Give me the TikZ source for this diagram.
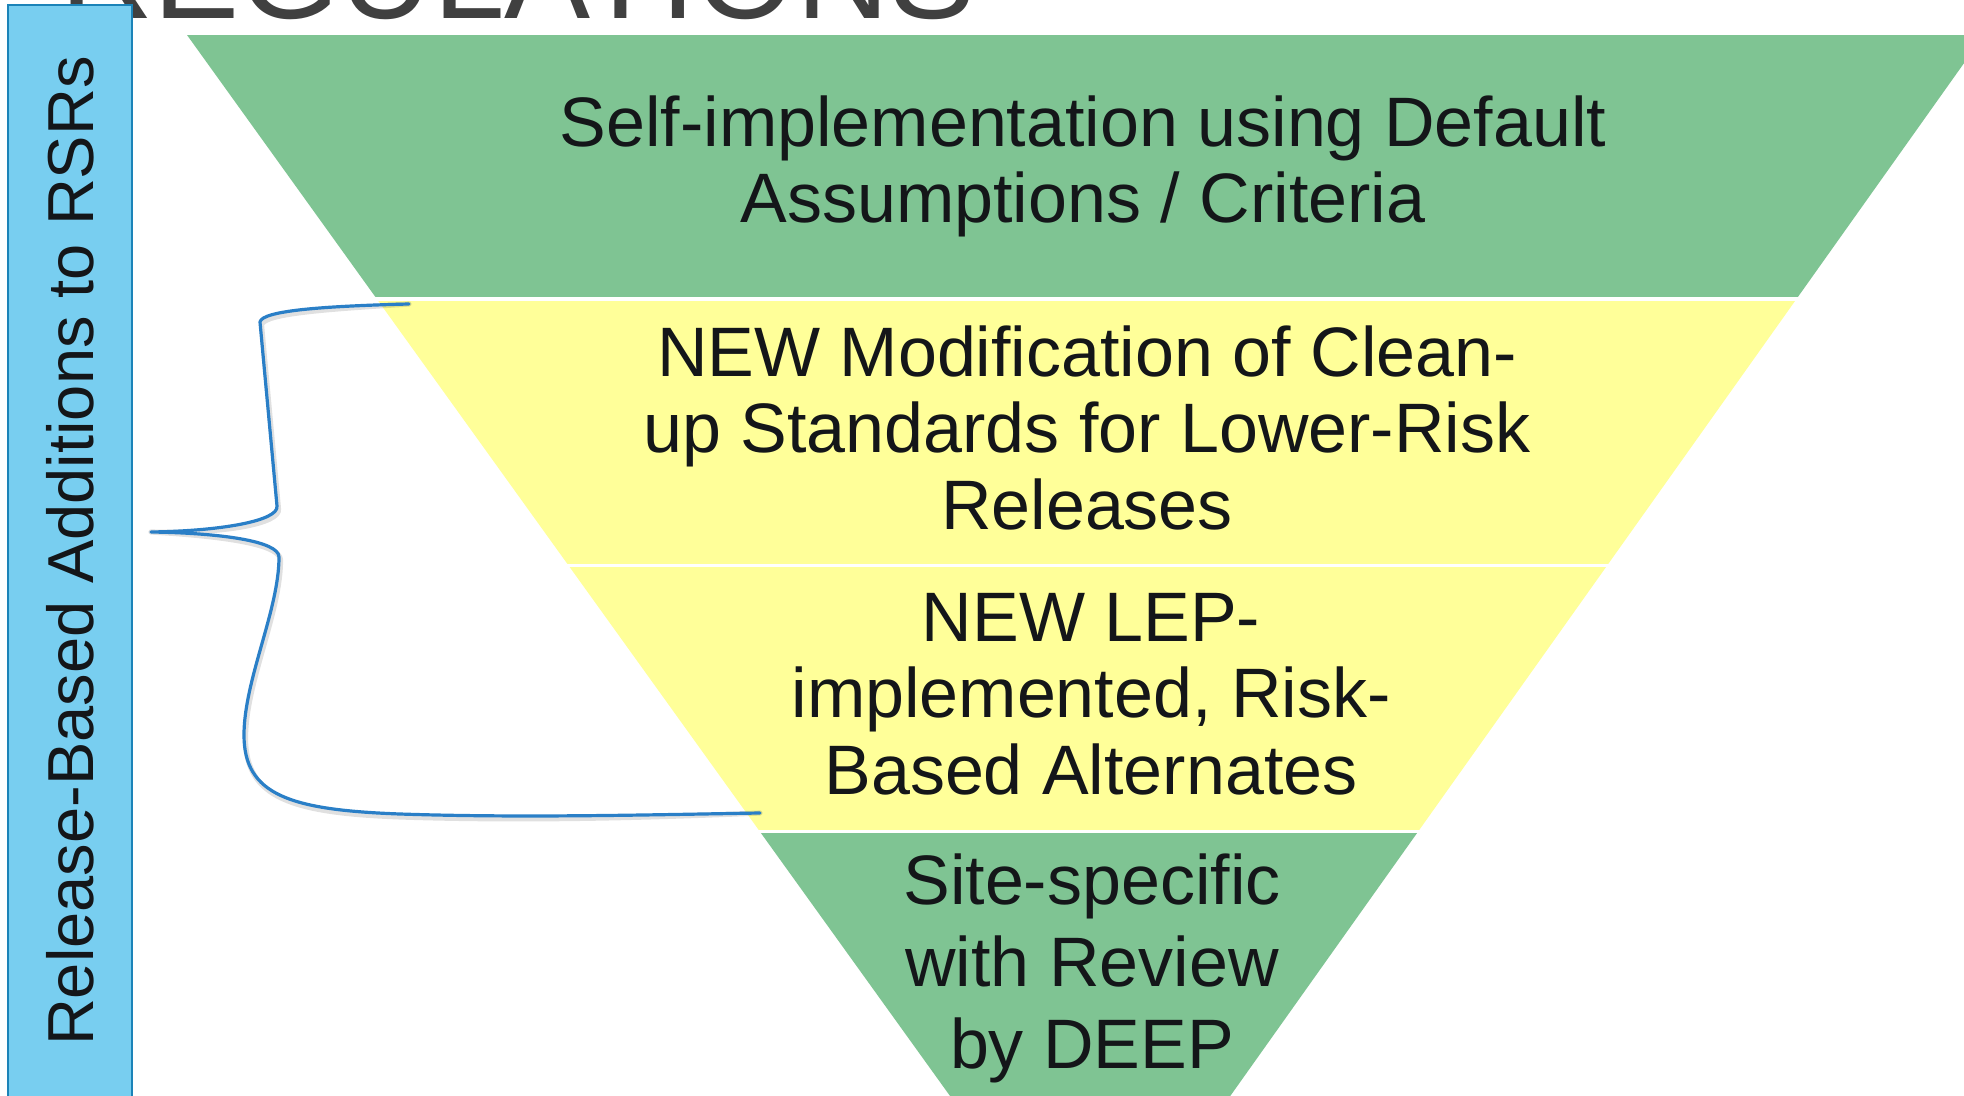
\documentclass[tikz,border=0pt]{standalone}
\usepackage{fontspec}
\setmainfont{Liberation Sans}
\definecolor{bandgreen}{HTML}{7FC493}
\definecolor{bandyellow}{HTML}{FFFF99}
\definecolor{sidefill}{HTML}{78CEF0}
\definecolor{sideedge}{HTML}{1B83B8}
\definecolor{bracecol}{HTML}{2A7FC7}
\definecolor{titlegray}{HTML}{404040}
\definecolor{inktext}{HTML}{141619}
\tikzset{
  % multi-line nodes: the base anchor sits on the last line's baseline
  bandtext/.style={align=center, text=inktext, inner sep=0pt, anchor=base,
    font=\fontsize{35}{38.25}\selectfont},
  sidelabel/.style={rotate=90, text=inktext, inner sep=0pt,
    font=\fontsize{32.5}{36}\selectfont},
  bracestroke/.style={draw=bracecol, line width=1.6pt, line cap=round, line join=round},
  braceshade/.style={draw=black, opacity=0.12, line width=2.6pt, line cap=round, line join=round}
}
\begin{document}
\begin{tikzpicture}[x=0.5pt, y=-0.5pt]
  \useasboundingbox (0,0) rectangle (1964,1096);
  \clip (0,0) rectangle (1964,1096);

  % heading, mostly above the frame
  \node[anchor=base west, inner sep=0pt, text=titlegray,
        font=\fontsize{64.5}{70}\selectfont] (title) at (60,19) {REGULATIONS};

  % inverted funnel, four bands separated by thin white gaps
  \begin{scope}
    \clip (187,35) -- (1984,35) -- (1091,1292) -- cycle;
    \fill[bandgreen]  (0,35)  rectangle (2000,297);
    \fill[bandyellow] (0,301) rectangle (2000,564);
    \fill[bandyellow] (0,567) rectangle (2000,830);
    \fill[bandgreen]  (0,833) rectangle (2000,1300);
  \end{scope}

  \node[bandtext] (tier1) at (1083,223)
    {Self-implementation using Default\\Assumptions / Criteria};
  \node[bandtext] (tier2) at (1087,529)
    {NEW Modification of Clean-\\up Standards for Lower-Risk\\Releases};
  \node[bandtext] (tier3) at (1091,794)
    {NEW LEP-\\implemented, Risk-\\Based Alternates};
  \node[bandtext, font=\fontsize{35}{41}\selectfont] (tier4) at (1092,1068)
    {Site-specific\\with Review\\by DEEP};

  % side panel
  \draw[fill=sidefill, draw=sideedge, line width=1.3pt] (8,5) rectangle (132,1120);
  \node[sidelabel] (side) at (70,551) {Release-Based Additions to RSRs};

  % curly brace grouping the two new tiers
  \coordinate (bracetop) at (409,304);
  \coordinate (bracetip) at (151,532);
  \coordinate (bracebot) at (760,813);
  \foreach \sty/\dx/\dy in {braceshade/1.5/3, bracestroke/0/0}{
    \draw[\sty, shift={(\dx,\dy)}] (bracetop)
      .. controls (330,306) and (262,310) .. (260,322)
      -- (277,506)
      .. controls (279,521) and (220,531) .. (bracetip)
      .. controls (220,533) and (279,541) .. (279,557)
      .. controls (279,610) and (244,680) .. (244,735)
      .. controls (244,795) and (290,810) .. (400,814)
      .. controls (520,818) and (640,815) .. (bracebot);
  }
\end{tikzpicture}
\end{document}
